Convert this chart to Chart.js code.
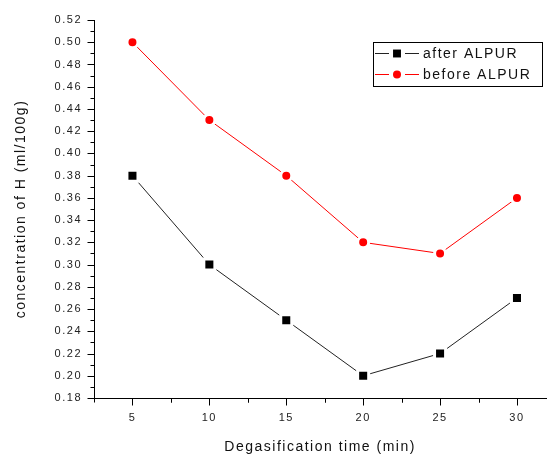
<!DOCTYPE html>
<html>
<head>
<meta charset="utf-8">
<script src="https://cdn.jsdelivr.net/npm/chart.js@4"></script>
<style>
  html, body { margin: 0; padding: 0; background: #fff; }
  #wrap { width: 557px; height: 459px; }
</style>
</head>
<body>
<div id="wrap"><canvas id="chart" width="557" height="459"></canvas></div>
<script>
// ---------- Data ----------
const times = [5, 10, 15, 20, 25, 30];
const afterAlpur = [0.38, 0.30, 0.25, 0.20, 0.22, 0.27];
const beforeAlpur = [0.50, 0.43, 0.38, 0.32, 0.31, 0.36];
const xTicks = [5, 10, 15, 20, 25, 30];
const yTicks = [0.18, 0.20, 0.22, 0.24, 0.26, 0.28, 0.30, 0.32, 0.34, 0.36,
                0.38, 0.40, 0.42, 0.44, 0.46, 0.48, 0.50, 0.52];
const seriesNames = ["after ALPUR", "before ALPUR"];

const FONT = "'Liberation Sans', Arial, sans-serif";
const SPACING = "1.5px";

// ---------- Plugins ----------
// letter spacing like the original bitmap text
const spacingPlugin = {
    id: "spacing",
    beforeLayout(chart) { chart.ctx.letterSpacing = SPACING; },
    beforeDraw(chart) { chart.ctx.letterSpacing = SPACING; }
};

// outward major/minor ticks on both axes
const ticksPlugin = {
    id: "outTicks",
    afterDraw(chart) {
        const { ctx, scales: { x, y }, chartArea } = chart;
        ctx.save();
        ctx.strokeStyle = "#000";
        ctx.lineWidth = 1;
        ctx.beginPath();
        const bottom = Math.round(chartArea.bottom) + 0.5;
        const left = Math.round(chartArea.left) + 0.5;
        xTicks.forEach(v => {
            const px = Math.round(x.getPixelForValue(v)) + 0.5;
            ctx.moveTo(px, bottom); ctx.lineTo(px, bottom + 7);
            [v - 2.5, v + 2.5].forEach(m => {
                if (m < x.min || m > x.max) return;
                const mx = Math.round(x.getPixelForValue(m)) + 0.5;
                ctx.moveTo(mx, bottom); ctx.lineTo(mx, bottom + 4);
            });
        });
        yTicks.forEach((v, i) => {
            const py = Math.round(y.getPixelForValue(v)) + 0.5;
            ctx.moveTo(left, py); ctx.lineTo(left - 7, py);
            if (i < yTicks.length - 1) {
                const my = Math.round(y.getPixelForValue((v + yTicks[i + 1]) / 2)) + 0.5;
                ctx.moveTo(left, my); ctx.lineTo(left - 4, my);
            }
        });
        ctx.stroke();
        ctx.restore();
    }
};

// boxed legend, top right
const legendPlugin = {
    id: "boxLegend",
    afterDraw(chart) {
        const ctx = chart.ctx;
        ctx.save();
        ctx.letterSpacing = SPACING;
        ctx.strokeStyle = "#000";
        ctx.lineWidth = 1;
        ctx.strokeRect(373.5, 42.5, 169, 44);
        chart.data.datasets.forEach((ds, i) => {
            const cy = 53 + i * 21;
            ctx.strokeStyle = ds.borderColor;
            ctx.lineWidth = 1;
            ctx.beginPath();
            ctx.moveTo(375, cy + 0.5); ctx.lineTo(389, cy + 0.5);
            ctx.moveTo(405, cy + 0.5); ctx.lineTo(419, cy + 0.5);
            ctx.stroke();
            ctx.fillStyle = ds.pointBackgroundColor;
            Chart.helpers.drawPoint(ctx, {
                pointStyle: ds.pointStyle,
                radius: ds.legendRadius,
                borderWidth: 0
            }, 397, cy + 0.5);
            ctx.fillStyle = "#111";
            ctx.font = "14px " + FONT;
            ctx.textBaseline = "middle";
            ctx.textAlign = "left";
            ctx.fillText(ds.label, 423, cy + 1);
        });
        ctx.restore();
    }
};

// ---------- Chart ----------
new Chart(document.getElementById("chart"), {
    type: "line",
    data: {
        datasets: [{
            label: seriesNames[0],
            data: times.map((t, i) => ({ x: t, y: afterAlpur[i] })),
            borderColor: "#222",
            borderWidth: 1,
            pointStyle: "rect",
            pointRadius: 7.8,
            pointBackgroundColor: "#000",
            pointBorderColor: "#fff",
            pointBorderWidth: 3,
            legendRadius: 5.6,
            tension: 0
        }, {
            label: seriesNames[1],
            data: times.map((t, i) => ({ x: t, y: beforeAlpur[i] })),
            borderColor: "#ff0000",
            borderWidth: 1,
            pointStyle: "circle",
            pointRadius: 5.5,
            pointBackgroundColor: "#ff0000",
            pointBorderColor: "#fff",
            pointBorderWidth: 3,
            legendRadius: 4,
            tension: 0
        }]
    },
    options: {
        responsive: false,
        animation: false,
        events: [],
        layout: { padding: { top: 20, right: 0, left: 0, bottom: 0 } },
        plugins: { legend: { display: false }, tooltip: { enabled: false } },
        scales: {
            x: {
                type: "linear",
                min: 2.5,
                max: 31.9,
                afterBuildTicks: s => { s.ticks = xTicks.map(v => ({ value: v })); },
                afterFit: s => { s.height = 61; },
                grid: { display: false, drawTicks: false },
                border: { display: true, color: "#000", width: 1 },
                ticks: {
                    padding: 13,
                    color: "#222",
                    font: { family: FONT, size: 11 },
                    maxRotation: 0,
                    callback: v => String(v)
                },
                title: {
                    display: true,
                    text: "Degasification time (min)",
                    color: "#111",
                    font: { family: FONT, size: 14 },
                    padding: { top: 0, bottom: 3 }
                }
            },
            y: {
                min: 0.18,
                max: 0.52,
                afterBuildTicks: s => { s.ticks = yTicks.map(v => ({ value: v })); },
                afterFit: s => { s.width = 94; },
                grid: { display: false, drawTicks: false },
                border: { display: true, color: "#000", width: 1 },
                ticks: {
                    padding: 12,
                    color: "#222",
                    font: { family: FONT, size: 11 },
                    callback: v => v.toFixed(2)
                },
                title: {
                    display: true,
                    text: "concentration of H (ml/100g)",
                    color: "#111",
                    font: { family: FONT, size: 14 },
                    padding: { top: 13, bottom: 0 }
                }
            }
        }
    },
    plugins: [spacingPlugin, ticksPlugin, legendPlugin]
});
</script>
</body>
</html>
